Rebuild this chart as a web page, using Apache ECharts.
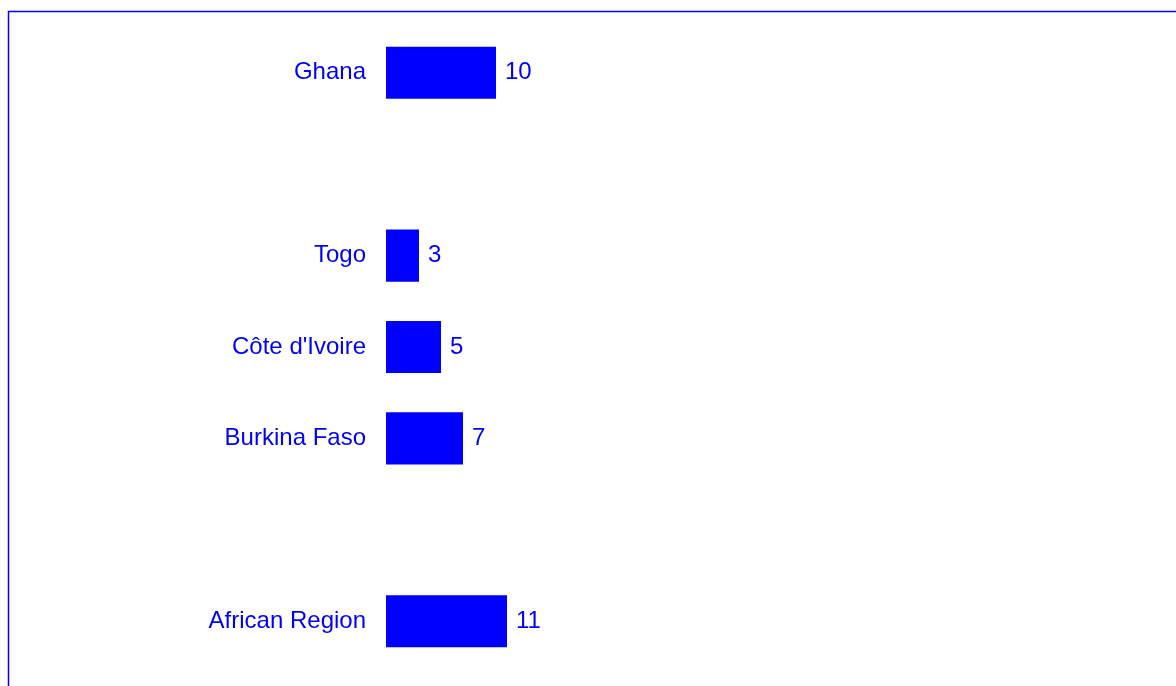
<!DOCTYPE html>
<html>
<head>
<meta charset="utf-8">
<style>
  html, body { margin: 0; padding: 0; background: #fff; }
  #chart { width: 1176px; height: 686px; }
</style>
<script src="https://cdn.jsdelivr.net/npm/echarts@6/dist/echarts.min.js"></script>
</head>
<body>
<div id="chart"></div>
<script>
// blank categories are the gaps between groups
const categories = ['Ghana', '', 'Togo', "Côte d'Ivoire", 'Burkina Faso', '', 'African Region']
const values = [10, '-', 3, 5, 7, '-', 11]

const blue = '#0000ff'
const font = '"Liberation Sans", Arial, sans-serif'

const chart = echarts.init(document.getElementById('chart'))
chart.setOption({
  animation: false,
  graphic: [{
    type: 'rect',
    shape: { x: 8.5, y: 11.5, width: 1300, height: 800 },
    style: { fill: 'none', stroke: blue, lineWidth: 1.5 },
    silent: true
  }],
  grid: {
    left: 386,
    right: 20,
    top: 27,
    height: 640
  },
  xAxis: {
    type: 'value',
    min: 0,
    max: 70,
    show: false
  },
  yAxis: {
    type: 'category',
    data: categories,
    inverse: true,
    axisLine: { show: false },
    axisTick: { show: false },
    splitLine: { show: false },
    axisLabel: {
      color: blue,
      fontFamily: font,
      fontSize: 24,
      margin: 20
    }
  },
  series: [{
    type: 'bar',
    data: values,
    barCategoryGap: '43%',
    itemStyle: { color: blue },
    label: {
      show: true,
      position: 'right',
      distance: 9,
      color: blue,
      fontFamily: font,
      fontSize: 24
    }
  }]
})
</script>
</body>
</html>
